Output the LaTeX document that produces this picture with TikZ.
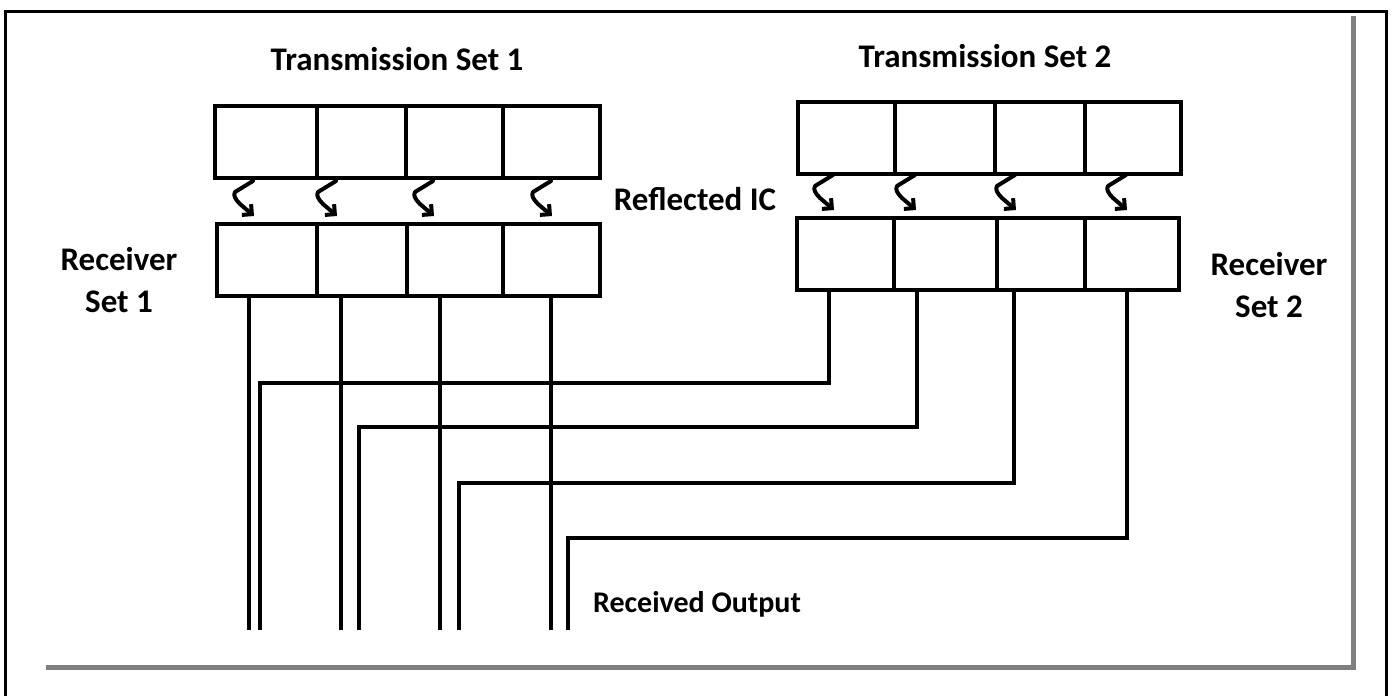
\documentclass[tikz,border=0pt]{standalone}
\usepackage{fontspec}
\setmainfont{Carlito}
\usetikzlibrary{arrows.meta,calc}
\begin{document}
\begin{tikzpicture}[x=1pt,y=-1pt,
  cell/.style={draw,line width=4pt,minimum height=72pt,inner sep=0pt,anchor=north west},
  wire/.style={line width=3.4pt},
  lbl/.style={font=\fontsize{33}{42}\selectfont\bfseries,inner sep=0pt,align=center},
  refl/.pic={\draw[line width=4pt,line join=round,line cap=round,-{Straight Barb[angle=90:10pt,line width=4pt]}]
     (-2,-36) -- (-20,-25) .. controls (-22,-22) and (-20,-18) .. (-15,-13) -- (-1,-1);}
]
\useasboundingbox (0,0) rectangle (1395,696);
% frame
\draw[line width=3pt] (5,700) -- (5,11) -- (1386,11) -- (1386,700);
\draw[line width=5pt,color={rgb,255:red,128;green,128;blue,128}] (46,667) -- (1353,667) -- (1353,16);

% transmission set 1
\node[cell,minimum width=102pt] (t1a) at (213,104) {};
\node[cell,minimum width=89pt]  (t1b) at (315,104) {};
\node[cell,minimum width=97pt]  (t1c) at (404,104) {};
\node[cell,minimum width=97pt]  (t1d) at (501,104) {};
% receiver set 1
\node[cell,minimum width=100pt] (r1a) at (215,222) {};
\node[cell,minimum width=90pt]  (r1b) at (315,222) {};
\node[cell,minimum width=96pt]  (r1c) at (405,222) {};
\node[cell,minimum width=97pt]  (r1d) at (501,222) {};
% transmission set 2
\node[cell,minimum width=97pt]  (t2a) at (796,100) {};
\node[cell,minimum width=100pt] (t2b) at (893,100) {};
\node[cell,minimum width=90pt]  (t2c) at (993,100) {};
\node[cell,minimum width=96pt]  (t2d) at (1083,100) {};
% receiver set 2
\node[cell,minimum width=97pt]  (r2a) at (795,216) {};
\node[cell,minimum width=103pt] (r2b) at (892,216) {};
\node[cell,minimum width=88pt]  (r2c) at (995,216) {};
\node[cell,minimum width=94pt]  (r2d) at (1083,216) {};

% reflection arrows
\pic at (255,217) {refl};
\pic at (338,217) {refl};
\pic at (435,217) {refl};
\pic at (553,217) {refl};
\pic at (835,211) {refl};
\pic at (917,211) {refl};
\pic at (1017,211) {refl};
\pic at (1128,211) {refl};

% labels
\node[lbl] (ts1) at (397,59) {Transmission Set 1};
\node[lbl] (ts2) at (985,56) {Transmission Set 2};
\node[lbl] (ric) at (695,199) {Reflected IC};
\node[lbl] (rs1) at (119,280) {Receiver\\Set 1};
\node[lbl] (rs2) at (1269,285) {Receiver\\Set 2};
\node[lbl,font=\fontsize{30}{36}\selectfont\bfseries] (out) at (697,604) {Received Output};

% outputs of receiver set 1
\coordinate (o1) at (249,630);
\coordinate (o2) at (341,630);
\coordinate (o3) at (440,630);
\coordinate (o4) at (551,630);
\draw[wire] (o1 |- r1a.south) -- (o1);
\draw[wire] (o2 |- r1b.south) -- (o2);
\draw[wire] (o3 |- r1c.south) -- (o3);
\draw[wire] (o4 |- r1d.south) -- (o4);

% outputs of receiver set 2
\coordinate (b1) at (829,383);
\coordinate (b2) at (917,427);
\coordinate (b3) at (1014,483);
\coordinate (b4) at (1127,538);
\coordinate (q1) at (260,630);
\coordinate (q2) at (359,630);
\coordinate (q3) at (459,630);
\coordinate (q4) at (568,630);
\draw[wire,line join=miter] (b1 |- r2a.south) -- (b1) -| (q1);
\draw[wire,line join=miter] (b2 |- r2b.south) -- (b2) -| (q2);
\draw[wire,line join=miter] (b3 |- r2c.south) -- (b3) -| (q3);
\draw[wire,line join=miter] (b4 |- r2d.south) -- (b4) -| (q4);
\end{tikzpicture}
\end{document}
